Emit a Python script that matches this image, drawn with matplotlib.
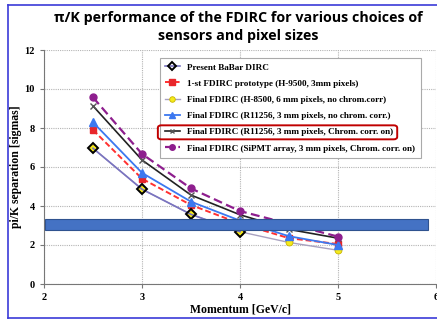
import numpy as np
import matplotlib
matplotlib.use("Agg")
import matplotlib.pyplot as plt
from matplotlib.patches import Rectangle, FancyBboxPatch

# =========================
# Data
# =========================
p_babar = [2.5, 3.0, 3.5, 4.0]
s_babar = [6.96, 4.86, 3.57, 2.68]

p_proto = [2.5, 3.0, 3.5, 4.0, 4.5, 5.0]
s_proto = [7.9, 5.4, 4.05, 3.1, 2.35, 2.05]

p_h8500 = [2.5, 3.0, 3.5, 4.0, 4.5, 5.0]
s_h8500 = [6.96, 4.86, 3.57, 2.68, 2.13, 1.73]

p_r_nocorr = [2.5, 3.0, 3.5, 4.0, 4.5, 5.0]
s_r_nocorr = [8.29, 5.7, 4.22, 3.25, 2.45, 2.0]

p_r_corr = [2.5, 3.0, 3.5, 4.0, 4.5, 5.0]
s_r_corr = [9.13, 6.36, 4.56, 3.55, 2.8, 2.35]

p_sipm = [2.5, 3.0, 3.5, 4.0, 5.0]
s_sipm = [9.57, 6.67, 4.9, 3.74, 2.43]

labels = ["Present BaBar DIRC",
          "1-st FDIRC prototype (H-9500, 3mm pixels)",
          "Final FDIRC (H-8500, 6 mm pixels, no chrom.corr)",
          "Final FDIRC (R11256, 3 mm pixels, no chrom. corr.)",
          "Final FDIRC (R11256, 3 mm pixels, Chrom. corr. on)",
          "Final FDIRC (SiPMT array, 3 mm pixels, Chrom. corr. on)"]

band = (2.79, 3.31)   # blue band, sigmas

# =========================
# Figure
# =========================
W, H = 437, 323
fig = plt.figure(figsize=(W / 100, H / 100), dpi=100)
ax = fig.add_axes([44 / W, (H - 284) / H, (436 - 44) / W, (284 - 50) / H])

serif = "Liberation Serif"

# curves (plot order = legend order)
ax.plot(p_babar, s_babar, color="#7a74c0", lw=1.2, marker="D", ms=5,
        mfc="none", mec="black", mew=1.4, label=labels[0], zorder=4)
ax.plot(p_proto, s_proto, color="#ff3030", lw=1.4, ls=(0, (3, 1.5)), marker="s",
        ms=5, mfc="#e8262b", mec="#e8262b", label=labels[1], zorder=3)
ax.plot(p_h8500, s_h8500, color="#a9a2c0", lw=1.0, marker="o", ms=5,
        mfc="#f5ea1a", mec="#c8b400", mew=0.6, label=labels[2], zorder=3)
ax.plot(p_r_nocorr, s_r_nocorr, color="#3c78f0", lw=1.3, marker="^", ms=6,
        mfc="#3c78f0", mec="#3c78f0", label=labels[3], zorder=3)
ax.plot(p_r_corr, s_r_corr, color="#222222", lw=1.2, marker="x", ms=4,
        mec="#555555", label=labels[4], zorder=3)
ax.plot(p_sipm, s_sipm, color="#8e1e8e", lw=1.6, ls=(0, (4, 2)), marker="o",
        ms=5, mfc="#8e1e8e", mec="#8e1e8e", label=labels[5], zorder=3)

# blue band
ax.add_patch(Rectangle((2.01, band[0]), 5.92 - 2.01, band[1] - band[0],
                       facecolor="#4472c4", edgecolor="#2f528f", lw=0.8,
                       zorder=6))

ax.set_xlim(2, 6)
ax.set_ylim(0, 12)
ax.set_xticks([2, 3, 4, 5, 6])
ax.set_yticks(np.arange(0, 13, 2))
ax.grid(True, color="#b4b4b4", ls=(0, (1, 1)), lw=0.8)
for s in ["top", "right"]:
    ax.spines[s].set_visible(False)
for s in ["left", "bottom"]:
    ax.spines[s].set_color("#777777")
ax.tick_params(length=3, color="#777777", labelsize=7.5)
for t in ax.get_xticklabels() + ax.get_yticklabels():
    t.set_fontfamily(serif)
    t.set_fontweight("bold")

ax.set_xlabel("Momentum [GeV/c]", fontfamily=serif, fontweight="bold",
              fontsize=8.5, labelpad=1)
ax.set_ylabel("pi/K separation [sigmas]", fontfamily=serif, fontweight="bold",
              fontsize=8.5, labelpad=2)

# legend
leg = ax.legend(loc="upper left", bbox_to_anchor=(155 / W, 1 - 53 / H),
                bbox_transform=fig.transFigure, frameon=True, fancybox=False,
                edgecolor="#aaaaaa", framealpha=1,
                prop={"family": serif, "weight": "bold", "size": 6.6},
                handlelength=1.6, handletextpad=0.8, labelspacing=0.85,
                borderpad=0.6, markerscale=0.8)
leg.get_frame().set_linewidth(0.8)
leg.set_zorder(5)

# red box around the 5th entry
fig.canvas.draw()
r = fig.canvas.get_renderer()
tb = leg.get_texts()[4].get_window_extent(r)
hb = leg.legend_handles[4].get_window_extent(r)
x0, y0 = hb.x0 - 5, tb.y0 - 3
fig.add_artist(FancyBboxPatch((x0 / W, y0 / H), (tb.x1 + 4 - x0) / W,
                              (tb.height + 6) / H, transform=fig.transFigure,
                              boxstyle="round,pad=0,rounding_size=0.008",
                              facecolor="none", edgecolor="#c00000", lw=1.4,
                              zorder=10))

# title
fig.text(0.545, 1 - 27 / H, "\u03c0/K performance of the FDIRC for various choices of\nsensors and pixel sizes",
         ha="center", va="center", fontsize=10.3, fontweight="bold",
         fontfamily=["Open Sans", "DejaVu Sans"], linespacing=1.4)

# slide frame
fig.add_artist(plt.Line2D([8 / W, 8 / W], [1 - 5 / H, 1 - 318 / H],
                          color="#3b3bd8", lw=1.2, transform=fig.transFigure))
fig.add_artist(plt.Line2D([8 / W, 1], [1 - 5 / H, 1 - 5 / H],
                          color="#3b3bd8", lw=1.2, transform=fig.transFigure))
fig.add_artist(plt.Line2D([8 / W, 1], [1 - 318 / H, 1 - 318 / H],
                          color="#3b3bd8", lw=1.2, transform=fig.transFigure))

fig.savefig("out.png", dpi=100)
